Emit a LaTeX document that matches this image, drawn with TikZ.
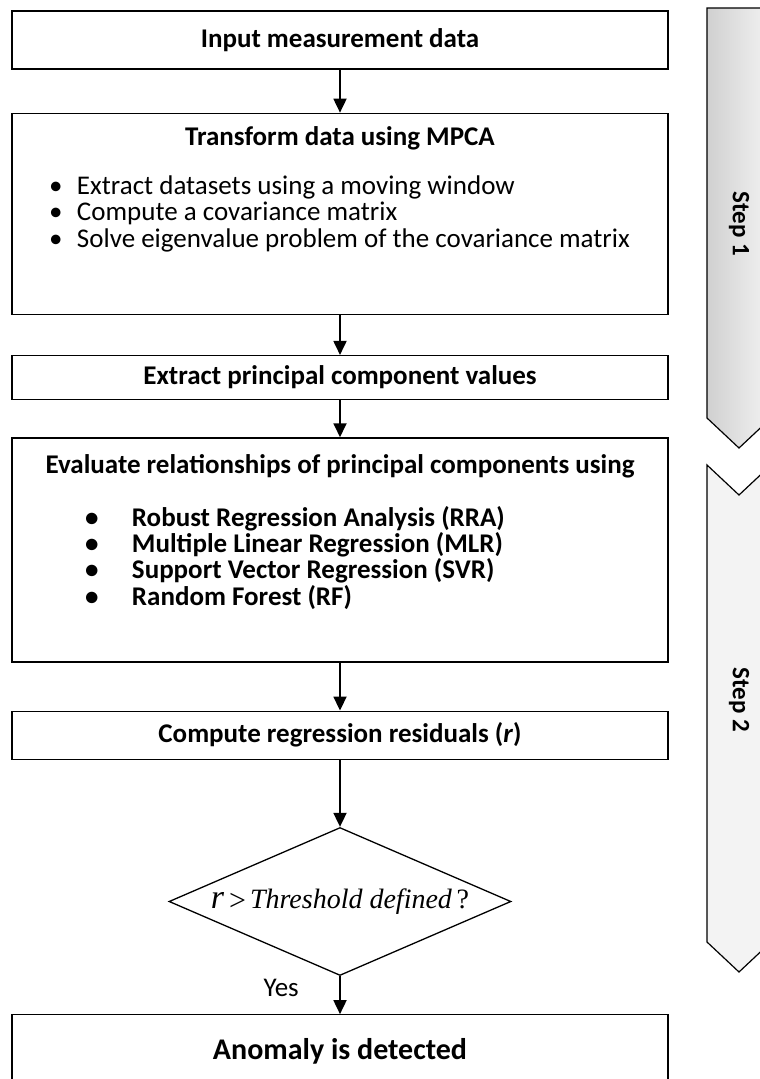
\documentclass[tikz,border=0pt]{standalone}
\usepackage{fontspec}
\setmainfont{Carlito}
\newfontfamily\timesfont{Liberation Serif}
\usetikzlibrary{shapes.geometric, arrows.meta, positioning}
\definecolor{stepDark}{RGB}{208, 208, 208}
\definecolor{stepLight}{RGB}{243, 243, 243}
\tikzset{
    % Base Block Style
    process/.style={
        rectangle,
        draw=black,
        line width=1.3pt,
        minimum width=656pt,
        inner sep=0pt,
        text centered,
        font=\fontsize{27}{26.3}\selectfont
    },
    % Decision Style
    decision/.style={
        diamond,
        draw=black,
        line width=1.3pt,
        minimum width=342pt,
        minimum height=148pt,
        inner sep=0pt,
        shape aspect=2.3
    },
    % Arrow & Label Styles
    arrow/.style={-{Triangle[length=14pt,width=13pt]}, line width=1.8pt},
    stepShape/.style={draw=black, line width=1.2pt},
    stepLabel/.style={font=\fontsize{25}{28}\selectfont\bfseries, rotate=-90}
}
% bullet line: indent, bullet box width, text
\newcommand{\bulletline}[3]{\hspace*{#1}\makebox[#2][l]{\textbullet}#3\par}

\begin{document}
\begin{tikzpicture}[x=1pt, y=1pt, node distance=43pt]

    \useasboundingbox (0,0) rectangle (760,-1079);

    % --- MAIN FLOW ---

    % 1. Input
    \node (input) [process, minimum height=58pt] at (340,-40) {
        \textbf{Input measurement data}
    };

    % 2. MPCA
    \node (mpca) [process, minimum height=201pt, below=43pt of input] {
        \parbox[c][201pt][t]{640pt}{%
            \vspace*{13pt}%
            {\centering\textbf{Transform data using MPCA}\par}%
            \vspace{23pt}%
            \bulletline{29pt}{28pt}{Extract datasets using a moving window}
            \bulletline{29pt}{28pt}{Compute a covariance matrix}
            \bulletline{29pt}{28pt}{Solve eigenvalue problem of the covariance matrix}
        }
    };

    % 3. Principal components
    \node (extract) [process, minimum height=44pt, below=40pt of mpca] {
        \textbf{Extract principal component values}
    };

    % 4. Regression models
    \node (evaluate) [process, minimum height=224pt, below=37pt of extract] {
        \parbox[c][224pt][t]{640pt}{%
            \vspace*{17pt}%
            {\centering\textbf{Evaluate relationships of principal components using}\par}%
            \vspace{26pt}\bfseries
            \bulletline{65pt}{47pt}{Robust Regression Analysis (RRA)}
            \bulletline{65pt}{47pt}{Multiple Linear Regression (MLR)}
            \bulletline{65pt}{47pt}{Support Vector Regression (SVR)}
            \bulletline{65pt}{47pt}{Random Forest (RF)}
        }
    };

    % 5. Residuals
    \node (residual) [process, minimum height=48pt, below=48pt of evaluate] {
        \textbf{Compute regression residuals (\textit{r})}
    };

    % 6. Threshold check
    \node (decide) [decision, below=67pt of residual] {
        \timesfont\itshape{\fontsize{34}{34}\selectfont r}\hspace{5pt}\raisebox{-2pt}{\upshape\fontsize{30}{30}\selectfont >}\hspace{4pt}{\fontsize{28}{30}\selectfont Threshold defined\,{\upshape ?}}
    };

    % 7. Result
    \node (anomaly) [process, minimum height=74pt, below=38pt of decide,
        font=\fontsize{30}{32}\selectfont] {
        \textbf{Anomaly is detected}
    };

    % --- Arrows ---
    \draw [arrow] (input) -- (mpca);
    \draw [arrow] (mpca) -- (extract);
    \draw [arrow] (extract) -- (evaluate);
    \draw [arrow] (evaluate) -- (residual);
    \draw [arrow] (residual) -- (decide);
    \draw [arrow] (decide) -- node (yes) [pos=0.32, left=37pt, font=\fontsize{27}{28}\selectfont] {Yes} (anomaly);

    % --- STEP MARKERS (right side) ---
    \begin{scope}
        \clip (0,0) rectangle (760,-1079);
        \draw [stepShape, left color=stepDark, right color=stepLight]
            (707,-8) -- (771,-8) -- (771,-418) -- (739,-448) -- (707,-418) -- cycle;
        \draw [stepShape, fill=stepLight]
            (707,-465) -- (739,-495) -- (771,-465) -- (771,-942) -- (739,-972) -- (707,-942) -- cycle;
    \end{scope}
    \node (step1) [stepLabel] at (739,-224) {Step 1};
    \node (step2) [stepLabel] at (739,-700) {Step 2};

\end{tikzpicture}
\end{document}
